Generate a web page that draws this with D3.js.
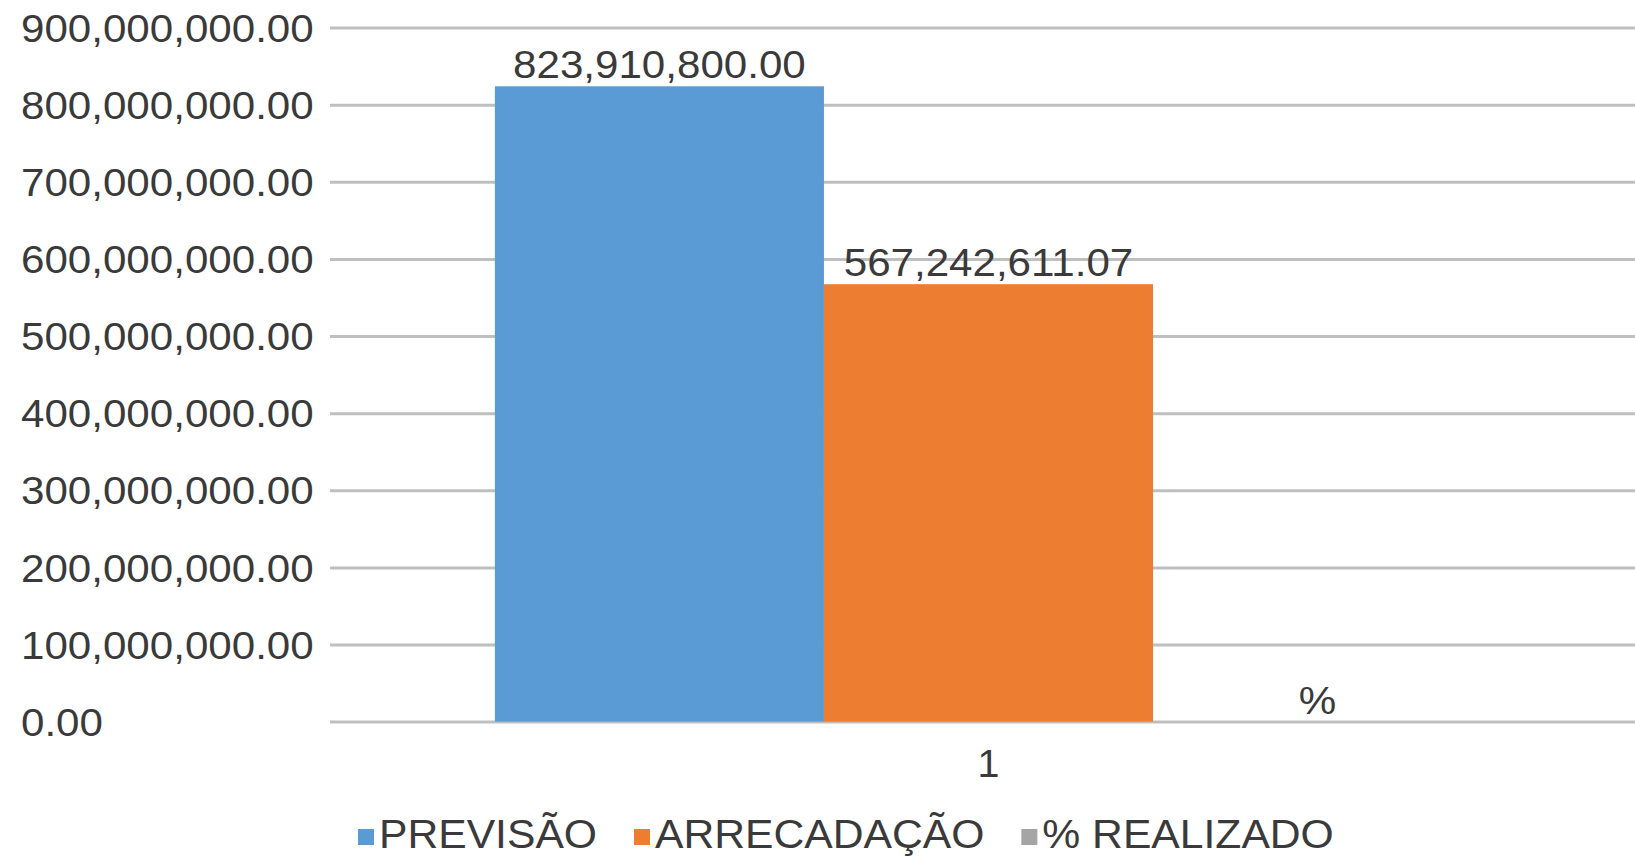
<!DOCTYPE html>
<html>
<head>
<meta charset="utf-8">
<script src="https://cdn.jsdelivr.net/npm/d3@7"></script>
<style>
  html, body { margin: 0; padding: 0; background: #fff; }
  svg { display: block; }
  text { font-family: "Liberation Sans", Arial, sans-serif; fill: #3a3a3a; }
</style>
</head>
<body>
<svg id="chart" width="1635" height="857"></svg>
<script>
// ---- data ----
const categories = ["1"];
const seriesNames = ["PREVISÃO", "ARRECADAÇÃO", "% REALIZADO"];
const seriesValues = [823910800.00, 567242611.07, 0];
const seriesLabels = ["823,910,800.00", "567,242,611.07", "%"];
const seriesColors = ["#5B9BD5", "#ED7D31", "#A5A5A5"];
const yTicks = [0, 100000000, 200000000, 300000000, 400000000, 500000000, 600000000, 700000000, 800000000, 900000000];

// ---- layout ----
const W = 1635, H = 857;
const plot = { left: 330, right: 1647, top: 27.6, bottom: 721.6 };
const STRETCH = 1.066; // horizontal glyph stretch of the reference text
const svg = d3.select("#chart");

function stretch(sel) {
  sel.each(function () {
    const w = this.getComputedTextLength();
    d3.select(this).attr("textLength", w * STRETCH).attr("lengthAdjust", "spacingAndGlyphs");
  });
}

const y = d3.scaleLinear().domain([0, 900000000]).range([plot.bottom, plot.top]);
const x0 = d3.scaleBand().domain(categories).range([plot.left, plot.right]).paddingInner(0).paddingOuter(0.167);
const x1 = d3.scaleBand().domain(seriesNames).range([0, x0.bandwidth()]).padding(0);

const fmt = d3.format(",.2f");

// gridlines
const yAxisGrid = d3.axisLeft(y).tickValues(yTicks).tickSize(-(W - plot.left)).tickFormat("");
const g = svg.append("g").attr("transform", `translate(${plot.left},0)`).call(yAxisGrid);
g.select(".domain").remove();
g.selectAll(".tick line").attr("stroke", "#BFBFBF").attr("stroke-width", 3);

// y labels (left aligned)
svg.append("g").selectAll("text").data(yTicks).join("text")
  .attr("x", 21)
  .attr("y", d => y(d))
  .attr("dy", "0.36em")
  .attr("font-size", 39.5)
  .text(d => fmt(d))
  .call(stretch);

// bars
const data = categories.map((c) => ({ cat: c, values: seriesNames.map((s, si) => ({ s, v: seriesValues[si], label: seriesLabels[si], color: seriesColors[si] })) }));
const cg = svg.append("g").selectAll("g").data(data).join("g")
  .attr("transform", d => `translate(${x0(d.cat)},0)`);
cg.selectAll("rect").data(d => d.values).join("rect")
  .attr("x", d => x1(d.s))
  .attr("y", d => y(d.v))
  .attr("width", x1.bandwidth())
  .attr("height", d => y(0) - y(d.v))
  .attr("fill", d => d.color);
cg.selectAll("text").data(d => d.values).join("text")
  .attr("x", d => x1(d.s) + x1.bandwidth() / 2)
  .attr("y", d => y(d.v) - 8)
  .attr("text-anchor", "middle")
  .attr("font-size", 39.5)
  .text(d => d.label)
  .call(stretch);

// x labels
svg.append("g").selectAll("text").data(categories).join("text")
  .attr("x", d => x0(d) + x0.bandwidth() / 2)
  .attr("y", 777)
  .attr("text-anchor", "middle")
  .attr("font-size", 39.5)
  .text(d => d);

// legend
const leg = svg.append("g");
let lx = 358;
seriesNames.forEach((s, i) => {
  leg.append("rect").attr("x", lx).attr("y", 829).attr("width", 16).attr("height", 16).attr("fill", seriesColors[i]);
  const t = leg.append("text").attr("x", lx + 21).attr("y", 848).attr("font-size", 40).text(s);
  const w = t.node().getComputedTextLength() * STRETCH;
  t.attr("textLength", w).attr("lengthAdjust", "spacingAndGlyphs");
  lx = lx + 21 + w + 37;
});
</script>
</body>
</html>
